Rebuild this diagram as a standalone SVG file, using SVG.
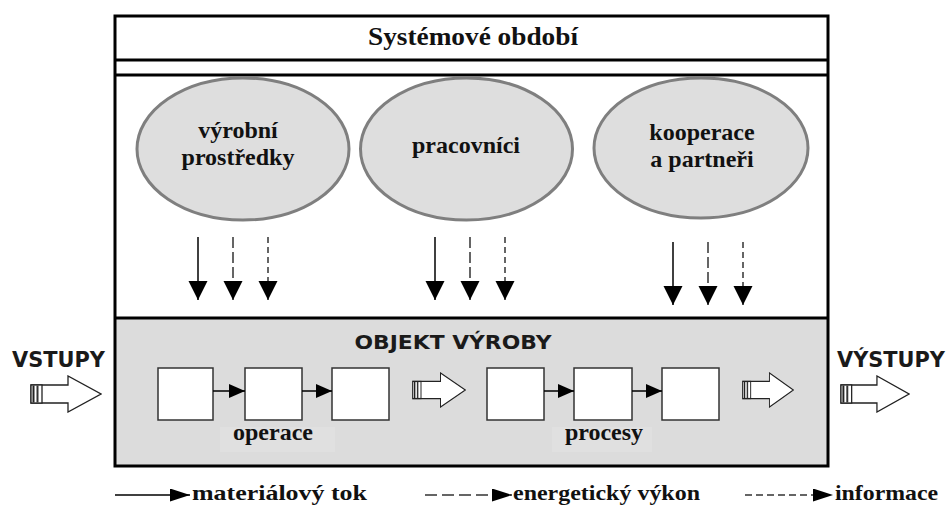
<svg xmlns="http://www.w3.org/2000/svg" width="949" height="506" viewBox="0 0 949 506">
<style>
.frame{fill:none;stroke:#000;stroke-width:3}
.ell{fill:#dedede;stroke:#7f7f7f;stroke-width:3}
.serif{font-family:"Liberation Serif","Times New Roman",serif;font-weight:bold;fill:#111}
.sans{font-family:"DejaVu Sans","Verdana",sans-serif;font-weight:bold;fill:#1a1a1a}
.box{fill:#fff;stroke:#333;stroke-width:1.5}
.solid{stroke:#000;stroke-width:1.5;fill:none}
.energy{stroke:#333;stroke-width:1.5;fill:none;stroke-dasharray:11 4}
.info{stroke:#333;stroke-width:1.5;fill:none;stroke-dasharray:6 4}
.blk{fill:#fff;stroke:#222;stroke-width:1.3}
</style>
<defs>
<marker id="big" markerUnits="userSpaceOnUse" markerWidth="20" markerHeight="20" refX="19" refY="9.5" orient="auto">
<path d="M0,0 L19,9.5 L0,19 z" fill="#000"/>
</marker>
<marker id="small" markerUnits="userSpaceOnUse" markerWidth="18" markerHeight="16" refX="16" refY="7" orient="auto">
<path d="M0,0 L16,7 L0,14 z" fill="#000"/>
</marker>
<marker id="leg" markerUnits="userSpaceOnUse" markerWidth="22" markerHeight="16" refX="20" refY="6.5" orient="auto">
<path d="M0,0 L20,6.5 L0,13 z" fill="#000"/>
</marker>
<symbol id="blockArrow" viewBox="0 0 72 38" preserveAspectRatio="none">
<path class="blk" d="M1,10 L38,10 L38,1 L71,19 L38,37 L38,28 L1,28 z"/>
<rect x="1" y="10" width="11" height="18" fill="#fff" stroke="#222" stroke-width="1.3"/>
<rect x="2.5" y="10.5" width="2" height="17" fill="#222"/>
<rect x="6.5" y="10.5" width="2" height="17" fill="#333"/>
</symbol>
</defs>
<rect width="949" height="506" fill="#fff"/>

<g id="system-frame">
<rect x="115" y="16" width="713" height="450" fill="#fff" stroke="none"/>
<rect x="116" y="318" width="711" height="147" fill="#dcdcdc"/>
<rect class="frame" x="115" y="16" width="713" height="450"/>
<line class="frame" x1="115" y1="60" x2="828" y2="60"/>
<line class="frame" x1="115" y1="75" x2="828" y2="75"/>
<line class="frame" x1="115" y1="318" x2="828" y2="318"/>
<text class="serif" x="473" y="45" font-size="26" text-anchor="middle" textLength="210" lengthAdjust="spacingAndGlyphs">Systémové období</text>
</g>

<g id="vyrobni-prostredky">
<ellipse class="ell" cx="243" cy="149" rx="106" ry="71"/>
<text class="serif" x="238" y="138" font-size="24" text-anchor="middle">výrobní</text>
<text class="serif" x="238" y="165" font-size="24" text-anchor="middle">prostředky</text>
</g>
<g id="pracovnici">
<ellipse class="ell" cx="466.5" cy="149" rx="106" ry="71"/>
<text class="serif" x="466" y="153" font-size="24" text-anchor="middle">pracovníci</text>
</g>
<g id="kooperace">
<ellipse class="ell" cx="701" cy="148" rx="107" ry="70"/>
<text class="serif" x="702" y="140" font-size="24" text-anchor="middle">kooperace</text>
<text class="serif" x="702" y="167" font-size="24" text-anchor="middle">a partneři</text>
</g>

<g id="objekt-vyroby">
<text class="sans" x="453" y="349" font-size="19" text-anchor="middle" fill="#222" textLength="197" lengthAdjust="spacingAndGlyphs">OBJEKT VÝROBY</text>
<rect x="220" y="427" width="115" height="25" fill="#e0e0e0"/>
<text class="serif" x="273" y="440" font-size="24" text-anchor="middle">operace</text>
<rect x="552" y="427" width="100" height="25" fill="#e0e0e0"/>
<text class="serif" x="604" y="440" font-size="24" text-anchor="middle">procesy</text>
</g>

<g id="op1"><rect class="box" x="158" y="368" width="55" height="52"/></g>
<g id="op2"><rect class="box" x="245" y="368" width="57" height="52"/></g>
<g id="op3"><rect class="box" x="332" y="368" width="57" height="52"/></g>
<g id="pr1"><rect class="box" x="487" y="368" width="57" height="52"/></g>
<g id="pr2"><rect class="box" x="574" y="368" width="58" height="52"/></g>
<g id="pr3"><rect class="box" x="662" y="368" width="57" height="52"/></g>

<g id="vstupy">
<text class="sans" x="12" y="367" font-size="21" textLength="93" lengthAdjust="spacingAndGlyphs">VSTUPY</text>
<use href="#blockArrow" x="30" y="375" width="72" height="38"/>
</g>
<g id="mid-arrow-1"><use href="#blockArrow" x="412" y="372" width="54" height="36"/></g>
<g id="mid-arrow-2"><use href="#blockArrow" x="742" y="372" width="52" height="36"/></g>
<g id="vystupy">
<text class="sans" x="837" y="367" font-size="21" textLength="108" lengthAdjust="spacingAndGlyphs">VÝSTUPY</text>
<use href="#blockArrow" x="840" y="375" width="70" height="38"/>
</g>

<g id="connectors">
<line class="solid" x1="198" y1="237" x2="198" y2="300" marker-end="url(#big)"/>
<line class="energy" x1="233" y1="237" x2="233" y2="300" marker-end="url(#big)"/>
<line class="info" x1="268" y1="237" x2="268" y2="300" marker-end="url(#big)"/>
<line class="solid" x1="435" y1="237" x2="435" y2="300" marker-end="url(#big)"/>
<line class="energy" x1="470" y1="237" x2="470" y2="300" marker-end="url(#big)"/>
<line class="info" x1="505" y1="237" x2="505" y2="300" marker-end="url(#big)"/>
<line class="solid" x1="673" y1="242" x2="673" y2="305" marker-end="url(#big)"/>
<line class="energy" x1="708" y1="242" x2="708" y2="305" marker-end="url(#big)"/>
<line class="info" x1="743" y1="242" x2="743" y2="305" marker-end="url(#big)"/>
<line class="solid" x1="213" y1="391" x2="245" y2="391" marker-end="url(#small)"/>
<line class="solid" x1="302" y1="391" x2="332" y2="391" marker-end="url(#small)"/>
<line class="solid" x1="544" y1="391" x2="574" y2="391" marker-end="url(#small)"/>
<line class="solid" x1="632" y1="391" x2="662" y2="391" marker-end="url(#small)"/>
</g>

<g id="legend">
<line class="solid" x1="115" y1="495" x2="190" y2="495" marker-end="url(#leg)"/>
<text class="serif" x="192" y="500" font-size="22" textLength="175" lengthAdjust="spacingAndGlyphs">materiálový tok</text>
<line class="energy" x1="425" y1="495" x2="512" y2="495" marker-end="url(#leg)" style="stroke-dasharray:12 5"/>
<text class="serif" x="513" y="500" font-size="22" textLength="187" lengthAdjust="spacingAndGlyphs">energetický výkon</text>
<line class="info" x1="745" y1="495" x2="833" y2="495" marker-end="url(#leg)" style="stroke-dasharray:7 4"/>
<text class="serif" x="835" y="500" font-size="22" textLength="103" lengthAdjust="spacingAndGlyphs">informace</text>
</g>
</svg>
